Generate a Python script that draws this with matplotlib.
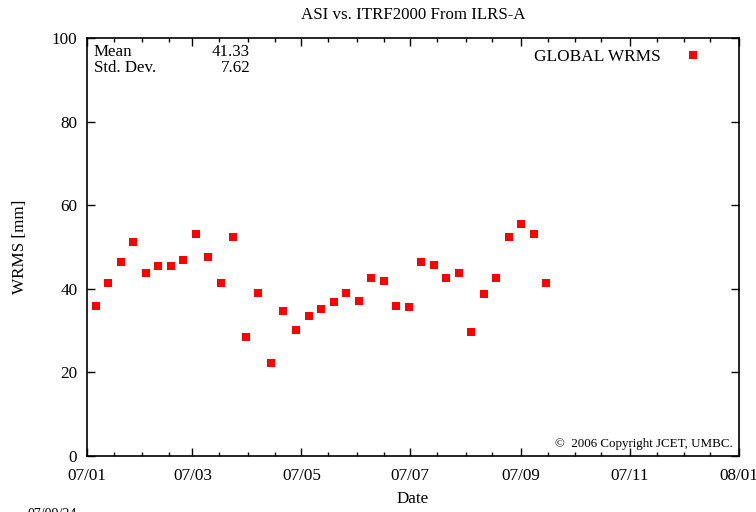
import matplotlib
matplotlib.use("Agg")
import matplotlib.pyplot as plt
import matplotlib.dates as mdates
import pandas as pd

# --- datos ---
fechas = [
    "2007-01-06", "2007-01-13", "2007-01-20", "2007-01-27",
    "2007-02-03", "2007-02-10", "2007-02-17", "2007-02-24",
    "2007-03-03", "2007-03-10", "2007-03-17", "2007-03-24", "2007-03-31",
    "2007-04-07", "2007-04-14", "2007-04-21", "2007-04-28",
    "2007-05-05", "2007-05-12", "2007-05-19", "2007-05-26",
    "2007-06-02", "2007-06-09", "2007-06-16", "2007-06-23", "2007-06-30",
    "2007-07-07", "2007-07-14", "2007-07-21", "2007-07-28",
    "2007-08-04", "2007-08-11", "2007-08-18", "2007-08-25",
    "2007-09-01", "2007-09-08", "2007-09-15",
]
wrms = [
    35.8, 41.3, 46.3, 51.1, 43.7, 45.4, 45.4, 46.8, 53.2, 47.5,
    41.3, 52.3, 28.4, 39.1, 22.2, 34.6, 30.1, 33.4, 35.1, 36.8,
    38.9, 37.0, 42.7, 41.8, 35.8, 35.6, 46.3, 45.6, 42.5, 43.7,
    29.6, 38.7, 42.5, 52.3, 55.4, 53.0, 41.3,
]
media = "41.33"
desv = "7.62"
titulo = "ASI vs. ITRF2000 From ILRS-A"
fecha_grafica = "07/09/24"

plt.rcParams["font.family"] = ["Liberation Serif", "DejaVu Serif"]

fig = plt.figure(figsize=(7.56, 5.12), dpi=100)
W, H = 756, 512
ax = fig.add_axes([87 / W, 1 - 456 / H, (739 - 87) / W, (456 - 38) / H])

x = pd.to_datetime(fechas)
ax.plot(x, wrms, "s", color="#ff0000", markersize=5.5, markeredgewidth=0,
        label="GLOBAL WRMS")

ax.set_xlim(pd.Timestamp("2007-01-01"), pd.Timestamp("2008-01-01"))
ax.set_ylim(0, 100)
ax.set_yticks([0, 20, 40, 60, 80, 100])
ax.xaxis.set_major_locator(mdates.MonthLocator(bymonth=[1, 3, 5, 7, 9, 11]))
ax.xaxis.set_major_formatter(mdates.DateFormatter("%y/%m"))
ax.xaxis.set_minor_locator(mdates.MonthLocator(bymonthday=[1, 16]))

ax.tick_params(which="both", direction="in", top=True, right=True,
               labelsize=12.3, width=1)
ax.tick_params(axis="x", pad=9)
ax.tick_params(axis="y", pad=7)
ax.tick_params(which="major", length=6)
ax.tick_params(which="minor", length=3)
for s in ax.spines.values():
    s.set_linewidth(1.2)

ax.set_title(titulo, fontsize=12.2, pad=14)
ax.set_xlabel("Date", fontsize=12.3, labelpad=5)
ax.set_ylabel("WRMS [mm]", fontsize=12.3, labelpad=17)

# caja de estadisticas
ax.text(0.01, 0.985, "Mean\nStd. Dev.", transform=ax.transAxes,
        ha="left", va="top", fontsize=12.2, linespacing=1.0)
ax.text(0.25, 0.985, media + "\n" + desv, transform=ax.transAxes,
        ha="right", va="top", fontsize=12.2, linespacing=1.0, multialignment="right")

leg = ax.legend(loc="upper right", bbox_to_anchor=(0.946, 0.973),
                frameon=False, fontsize=12.4, markerfirst=False,
                handletextpad=1.3, borderaxespad=0.0, borderpad=0.0,
                handlelength=1.2)

ax.text(0.99, 0.015, "\u00a9  2006 Copyright JCET, UMBC.", transform=ax.transAxes,
        ha="right", va="bottom", fontsize=9.4)

fig.text(27 / W, 1 - 508 / H, fecha_grafica, ha="left", va="top", fontsize=10)

fig.savefig("out.png", dpi=100)
